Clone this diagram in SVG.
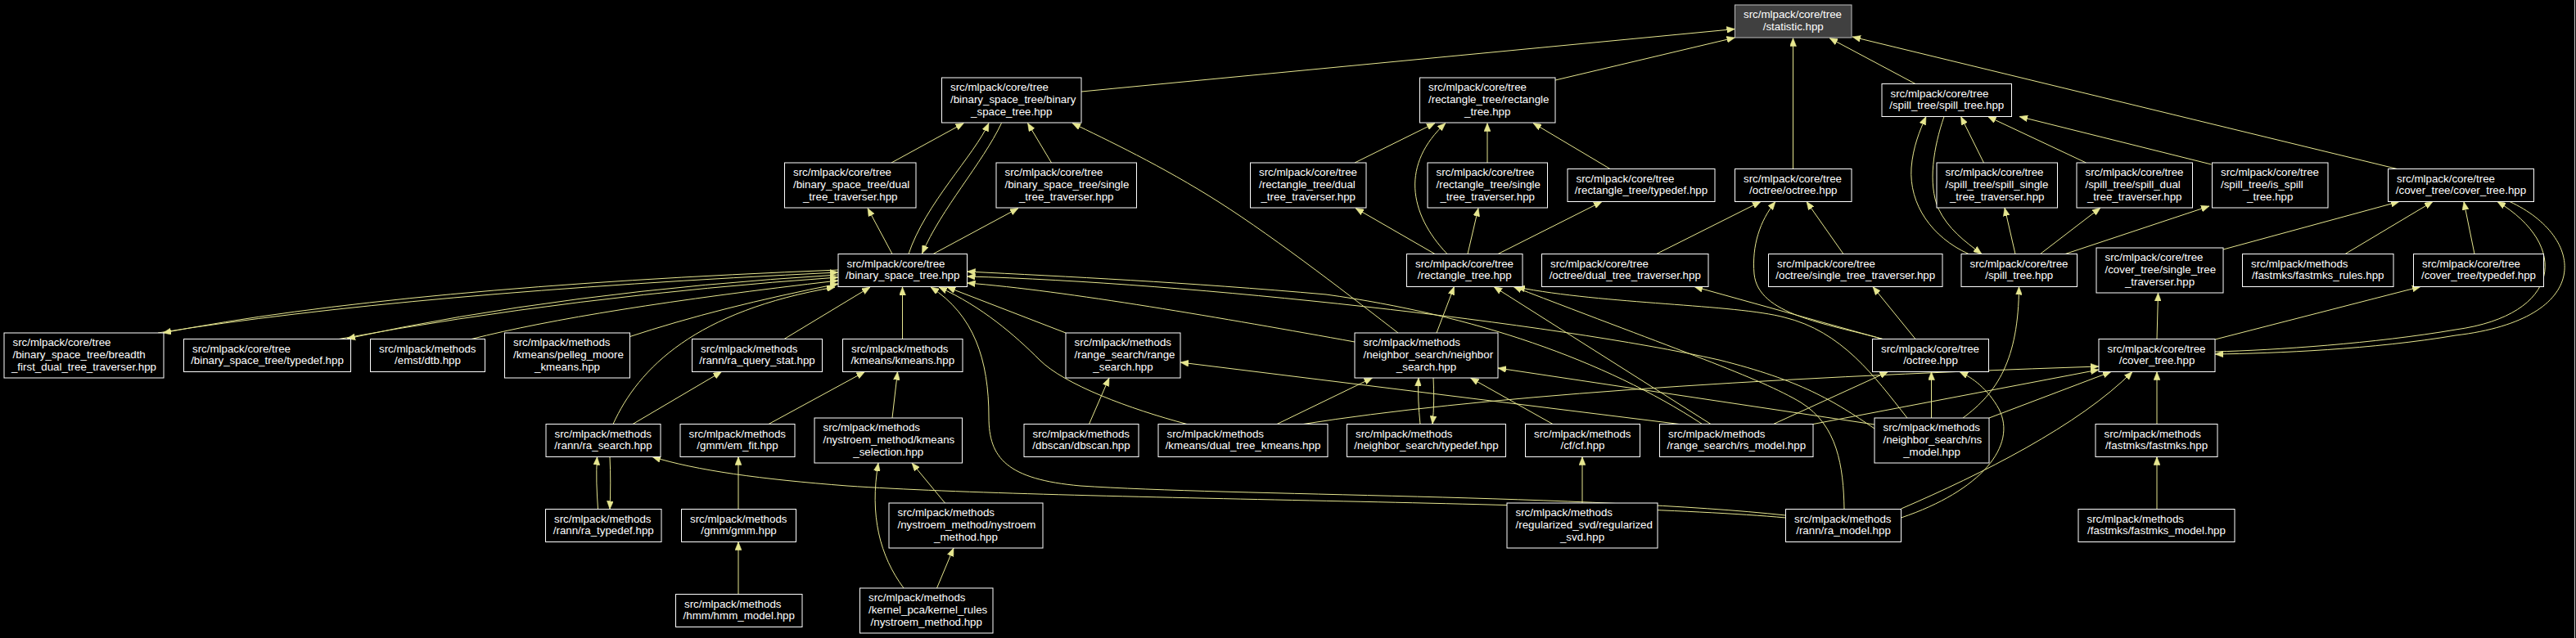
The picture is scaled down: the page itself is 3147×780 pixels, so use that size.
<svg xmlns="http://www.w3.org/2000/svg" width="3147" height="780" viewBox="0 0 3147 780">
<defs>
<marker id="a" viewBox="0 0 10 8" refX="10" refY="4" markerWidth="10" markerHeight="8" markerUnits="userSpaceOnUse" orient="auto">
<path d="M0,0 L10,4 L0,8 z" fill="#e6e68f" stroke="#e6e68f" stroke-width="0.5"/>
</marker>
<style>
.n rect{fill:#000;stroke:#ffffff;stroke-width:1}
.root rect{fill:#404040;stroke:#bfbfbf;stroke-width:1}
text{font-family:"Liberation Sans",Arial,sans-serif;font-size:13.33px;fill:#ffffff}
.c{text-anchor:middle}
#edges path{fill:none;stroke:#e6e68f;stroke-width:1;marker-end:url(#a)}
</style>
</defs>
<rect x="0" y="0" width="3147" height="780" fill="#000"/>
<line x1="3145.5" y1="0" x2="3145.5" y2="780" stroke="#d0d0d0" stroke-width="1"/>
<g id="edges">
<path d="M1321,112 L2119.5,35.5"/>
<path d="M1900,98 L2119.5,46"/>
<path d="M2190.5,206.5 L2190.5,46.5"/>
<path d="M2340,102.5 L2235,46.5"/>
<path d="M2928.5,206.5 L2263,45"/>
<path d="M1089,199 L1177.5,150.5"/>
<path d="M1110,310.5 C1130,250 1190,190 1208,150.5"/>
<path d="M1223.5,150.5 C1200,200 1150,255 1126.5,310"/>
<path d="M1284.5,199 L1255.5,150.5"/>
<path d="M1090,310.5 L1060,254.5"/>
<path d="M1140,310.5 L1244,254.5"/>
<path d="M1708,407 C1660,370 1560,292 1489,247 C1420,203 1350,170 1310,150.5"/>
<path d="M1655,199 L1753,150.5"/>
<path d="M1768,310.5 C1720,260 1712,200 1766,150.5"/>
<path d="M1817,199 L1817,150.5"/>
<path d="M1967,206.5 L1873,150.5"/>
<path d="M1753,310.5 L1656,254.5"/>
<path d="M1793,310.5 L1806,254.5"/>
<path d="M1830,310.5 L1957,246.5"/>
<path d="M2023.5,310.5 L2151,246.5"/>
<path d="M2252,310.5 L2207,246.5"/>
<path d="M2300,414.5 C2230,395 2148,385 2143,335 C2140,300 2150,270 2169,246.5"/>
<path d="M2300,414.5 L2070,350.5"/>
<path d="M2340,414.5 L2288,350.5"/>
<path d="M2166.5,518.5 L2306.5,454.5"/>
<path d="M2359.5,511 L2359.5,454.5"/>
<path d="M2322.5,633 C2420,600 2465,545 2442,500 C2428,475 2410,462 2394,454.5"/>
<path d="M2398,511 C2440,480 2466,440 2466.5,350.5"/>
<path d="M2430,511 L2579,454.5"/>
<path d="M2322.5,622 C2420,580 2540,520 2605,454.5"/>
<path d="M1592,518.5 Q1900,470 2564,448"/>
<path d="M2215,518.5 L2564,452"/>
<path d="M2635,414.5 L2636.5,358"/>
<path d="M2635,518.5 L2635,454.5"/>
<path d="M2635,622.5 L2635,558.5"/>
<path d="M2706,415 L2957,350.5"/>
<path d="M3023,310.5 L3010,246.5"/>
<path d="M2865,310.5 L2972,246.5"/>
<path d="M2716,305 L2931,246.5"/>
<path d="M3066,246.5 C3160,290 3170,390 3000,410 C2900,427 2780,432 2706,433"/>
<path d="M2706,430 C2780,428 2900,420 3000,403 C3130,385 3140,300 3051,246.5"/>
<path d="M2423.5,199 L2395.5,142.5"/>
<path d="M2548.5,199 L2428.5,142.5"/>
<path d="M2701.5,201 L2467,142.5"/>
<path d="M2462,310.5 L2449,254"/>
<path d="M2492.5,310.5 L2566,254"/>
<path d="M2523,310.5 L2699,252"/>
<path d="M2405,310.5 C2360,290 2332,250 2335,205 C2337,180 2345,160 2353,142.5"/>
<path d="M2375,142.5 C2362,180 2355,225 2368,255 C2380,280 2400,295 2421,310.5"/>
<path d="M2330,511 C2290,460 2250,405 2180,388 C2120,372 1960,372 1853,351"/>
<path d="M2253,622.5 C2252,570 2245,520 2200,492 C2150,462 2050,428 1849,350.5"/>
<path d="M2090,518.5 L1825,350.5"/>
<path d="M1755,407 L1776.5,350.5"/>
<path d="M2051.5,518.5 L1442,443"/>
<path d="M2079.5,518.5 C1960,440 1800,385 1620,360 C1450,345 1300,338 1181.5,332"/>
<path d="M2290,524 C2240,490 2200,465 2100,440 C1900,395 1450,345 1181.5,338"/>
<path d="M1655,418 C1500,390 1300,355 1181.5,346"/>
<path d="M1302,407 L1157,351"/>
<path d="M1450,518.5 C1380,500 1300,470 1270,440 C1240,410 1200,375 1147,351"/>
<path d="M2181.5,630 C1950,605 1500,606 1320,594 C1230,586 1208,560 1208,510 C1208,440 1190,385 1137,351"/>
<path d="M2181.5,633 C1950,612 1300,612 1035,594 C930,586 850,575 797,558.5"/>
<path d="M1102.5,414.5 L1102.5,351"/>
<path d="M958,414.5 L1063,351"/>
<path d="M749,518.5 C780,450 850,380 1020,351"/>
<path d="M768,412 Q880,375 1024,347"/>
<path d="M576,414.5 Q720,378 1024,343"/>
<path d="M414,414.5 Q700,362 1024,339"/>
<path d="M1024,336 Q690,356 424,414"/>
<path d="M193,407 Q500,358 1024,333"/>
<path d="M1024,330 Q490,351 199,407"/>
<path d="M773,518.5 L881.5,454.5"/>
<path d="M730.5,622.5 C729,600 728,580 729.5,558.5"/>
<path d="M745,558.5 C746,580 746,600 745,622.5"/>
<path d="M939,518.5 L1056.5,454.5"/>
<path d="M1090,511 L1096.5,454.5"/>
<path d="M902,622.5 L902,558.5"/>
<path d="M902,726.5 L902,662.5"/>
<path d="M1154.5,615 L1114,566"/>
<path d="M1104,719 C1075,680 1062,630 1073,566"/>
<path d="M1144.5,719 L1165,670"/>
<path d="M1330.5,518.5 L1355,462"/>
<path d="M1560,518.5 L1676.5,462"/>
<path d="M1735,518.5 C1733,500 1732,480 1733,462"/>
<path d="M1751,462 C1752,480 1752,500 1750,518.5"/>
<path d="M1897,518.5 L1796.5,462"/>
<path d="M2290,519 L1830,450"/>
<path d="M1933,615 L1933,558.5"/>
</g>
<g id="n1" class="root"><rect x="2119.5" y="6" width="142.5" height="40"/><text x="2130" y="22">src/mlpack/core/tree</text><text class="c" x="2190.75" y="36.5">/statistic.hpp</text></g>
<g id="n2" class="n"><rect x="1150.5" y="95" width="170.5" height="55"/><text x="1161" y="111">src/mlpack/core/tree</text><text x="1161" y="126">/binary_space_tree/binary</text><text class="c" x="1235.75" y="141">_space_tree.hpp</text></g>
<g id="n3" class="n"><rect x="1734.5" y="95" width="165.5" height="55"/><text x="1745" y="111">src/mlpack/core/tree</text><text x="1745" y="126">/rectangle_tree/rectangle</text><text class="c" x="1817.25" y="141">_tree.hpp</text></g>
<g id="n4" class="n"><rect x="2299" y="102.5" width="158.5" height="40"/><text x="2309.5" y="118.5">src/mlpack/core/tree</text><text class="c" x="2378.25" y="133">/spill_tree/spill_tree.hpp</text></g>
<g id="n5" class="n"><rect x="958.5" y="199" width="160.5" height="55"/><text x="969" y="215">src/mlpack/core/tree</text><text x="969" y="230">/binary_space_tree/dual</text><text class="c" x="1038.75" y="245">_tree_traverser.hpp</text></g>
<g id="n6" class="n"><rect x="1217" y="199" width="171.5" height="55"/><text x="1227.5" y="215">src/mlpack/core/tree</text><text x="1227.5" y="230">/binary_space_tree/single</text><text class="c" x="1302.75" y="245">_tree_traverser.hpp</text></g>
<g id="n7" class="n"><rect x="1527.5" y="199" width="141.5" height="55"/><text x="1538" y="215">src/mlpack/core/tree</text><text x="1538" y="230">/rectangle_tree/dual</text><text class="c" x="1598.25" y="245">_tree_traverser.hpp</text></g>
<g id="n8" class="n"><rect x="1744" y="199" width="146.5" height="55"/><text x="1754.5" y="215">src/mlpack/core/tree</text><text x="1754.5" y="230">/rectangle_tree/single</text><text class="c" x="1817.25" y="245">_tree_traverser.hpp</text></g>
<g id="n9" class="n"><rect x="1915" y="206.5" width="180" height="40"/><text x="1925.5" y="222.5">src/mlpack/core/tree</text><text class="c" x="2005" y="237">/rectangle_tree/typedef.hpp</text></g>
<g id="n10" class="n"><rect x="2119.5" y="206.5" width="142.5" height="40"/><text x="2130" y="222.5">src/mlpack/core/tree</text><text class="c" x="2190.75" y="237">/octree/octree.hpp</text></g>
<g id="n11" class="n"><rect x="2366" y="199" width="147.5" height="55"/><text x="2376.5" y="215">src/mlpack/core/tree</text><text x="2376.5" y="230">/spill_tree/spill_single</text><text class="c" x="2439.75" y="245">_tree_traverser.hpp</text></g>
<g id="n12" class="n"><rect x="2537" y="199" width="141.5" height="55"/><text x="2547.5" y="215">src/mlpack/core/tree</text><text x="2547.5" y="230">/spill_tree/spill_dual</text><text class="c" x="2607.75" y="245">_tree_traverser.hpp</text></g>
<g id="n13" class="n"><rect x="2702.5" y="199" width="141.5" height="55"/><text x="2713" y="215">src/mlpack/core/tree</text><text x="2713" y="230">/spill_tree/is_spill</text><text class="c" x="2773.25" y="245">_tree.hpp</text></g>
<g id="n14" class="n"><rect x="2917.5" y="206.5" width="178" height="40"/><text x="2928" y="222.5">src/mlpack/core/tree</text><text class="c" x="3006.5" y="237">/cover_tree/cover_tree.hpp</text></g>
<g id="n15" class="n"><rect x="1024" y="310.5" width="157.5" height="40"/><text x="1034.5" y="326.5">src/mlpack/core/tree</text><text class="c" x="1102.75" y="341">/binary_space_tree.hpp</text></g>
<g id="n16" class="n"><rect x="1718.5" y="310.5" width="141.5" height="40"/><text x="1729" y="326.5">src/mlpack/core/tree</text><text class="c" x="1789.25" y="341">/rectangle_tree.hpp</text></g>
<g id="n17" class="n"><rect x="1883.5" y="310.5" width="203.5" height="40"/><text x="1894" y="326.5">src/mlpack/core/tree</text><text class="c" x="1985.25" y="341">/octree/dual_tree_traverser.hpp</text></g>
<g id="n18" class="n"><rect x="2160.5" y="310.5" width="212.5" height="40"/><text x="2171" y="326.5">src/mlpack/core/tree</text><text class="c" x="2266.75" y="341">/octree/single_tree_traverser.hpp</text></g>
<g id="n19" class="n"><rect x="2396" y="310.5" width="141.5" height="40"/><text x="2406.5" y="326.5">src/mlpack/core/tree</text><text class="c" x="2466.75" y="341">/spill_tree.hpp</text></g>
<g id="n20" class="n"><rect x="2561" y="303" width="155" height="55"/><text x="2571.5" y="319">src/mlpack/core/tree</text><text x="2571.5" y="334">/cover_tree/single_tree</text><text class="c" x="2638.5" y="349">_traverser.hpp</text></g>
<g id="n21" class="n"><rect x="2739.5" y="310.5" width="184.5" height="40"/><text x="2750" y="326.5">src/mlpack/methods</text><text class="c" x="2831.75" y="341">/fastmks/fastmks_rules.hpp</text></g>
<g id="n22" class="n"><rect x="2948.5" y="310.5" width="159" height="40"/><text x="2959" y="326.5">src/mlpack/core/tree</text><text class="c" x="3028" y="341">/cover_tree/typedef.hpp</text></g>
<g id="n23" class="n"><rect x="5" y="407" width="195" height="55"/><text x="15.5" y="423">src/mlpack/core/tree</text><text x="15.5" y="438">/binary_space_tree/breadth</text><text class="c" x="102.5" y="453">_first_dual_tree_traverser.hpp</text></g>
<g id="n24" class="n"><rect x="224.5" y="414.5" width="204" height="40"/><text x="235" y="430.5">src/mlpack/core/tree</text><text class="c" x="326.5" y="445">/binary_space_tree/typedef.hpp</text></g>
<g id="n25" class="n"><rect x="452.5" y="414.5" width="140" height="40"/><text x="463" y="430.5">src/mlpack/methods</text><text class="c" x="522.5" y="445">/emst/dtb.hpp</text></g>
<g id="n26" class="n"><rect x="616.5" y="407" width="153" height="55"/><text x="627" y="423">src/mlpack/methods</text><text x="627" y="438">/kmeans/pelleg_moore</text><text class="c" x="693" y="453">_kmeans.hpp</text></g>
<g id="n27" class="n"><rect x="845.5" y="414.5" width="159" height="40"/><text x="856" y="430.5">src/mlpack/methods</text><text class="c" x="925" y="445">/rann/ra_query_stat.hpp</text></g>
<g id="n28" class="n"><rect x="1029.5" y="414.5" width="146.5" height="40"/><text x="1040" y="430.5">src/mlpack/methods</text><text class="c" x="1102.75" y="445">/kmeans/kmeans.hpp</text></g>
<g id="n29" class="n"><rect x="1302" y="407" width="140" height="55"/><text x="1312.5" y="423">src/mlpack/methods</text><text x="1312.5" y="438">/range_search/range</text><text class="c" x="1372" y="453">_search.hpp</text></g>
<g id="n30" class="n"><rect x="1655" y="407" width="175" height="55"/><text x="1665.5" y="423">src/mlpack/methods</text><text x="1665.5" y="438">/neighbor_search/neighbor</text><text class="c" x="1742.5" y="453">_search.hpp</text></g>
<g id="n31" class="n"><rect x="2287.5" y="414.5" width="142" height="40"/><text x="2298" y="430.5">src/mlpack/core/tree</text><text class="c" x="2358.5" y="445">/octree.hpp</text></g>
<g id="n32" class="n"><rect x="2564" y="414.5" width="142" height="40"/><text x="2574.5" y="430.5">src/mlpack/core/tree</text><text class="c" x="2635" y="445">/cover_tree.hpp</text></g>
<g id="n33" class="n"><rect x="667" y="518.5" width="140" height="40"/><text x="677.5" y="534.5">src/mlpack/methods</text><text class="c" x="737" y="549">/rann/ra_search.hpp</text></g>
<g id="n34" class="n"><rect x="831" y="518.5" width="140" height="40"/><text x="841.5" y="534.5">src/mlpack/methods</text><text class="c" x="901" y="549">/gmm/em_fit.hpp</text></g>
<g id="n35" class="n"><rect x="995" y="511" width="180.5" height="55"/><text x="1005.5" y="527">src/mlpack/methods</text><text x="1005.5" y="542">/nystroem_method/kmeans</text><text class="c" x="1085.25" y="557">_selection.hpp</text></g>
<g id="n36" class="n"><rect x="1251" y="518.5" width="140" height="40"/><text x="1261.5" y="534.5">src/mlpack/methods</text><text class="c" x="1321" y="549">/dbscan/dbscan.hpp</text></g>
<g id="n37" class="n"><rect x="1415" y="518.5" width="207" height="40"/><text x="1425.5" y="534.5">src/mlpack/methods</text><text class="c" x="1518.5" y="549">/kmeans/dual_tree_kmeans.hpp</text></g>
<g id="n38" class="n"><rect x="1645.5" y="518.5" width="194" height="40"/><text x="1656" y="534.5">src/mlpack/methods</text><text class="c" x="1742.5" y="549">/neighbor_search/typedef.hpp</text></g>
<g id="n39" class="n"><rect x="1863.5" y="518.5" width="140" height="40"/><text x="1874" y="534.5">src/mlpack/methods</text><text class="c" x="1933.5" y="549">/cf/cf.hpp</text></g>
<g id="n40" class="n"><rect x="2027.5" y="518.5" width="187.5" height="40"/><text x="2038" y="534.5">src/mlpack/methods</text><text class="c" x="2121.25" y="549">/range_search/rs_model.hpp</text></g>
<g id="n41" class="n"><rect x="2290" y="511" width="140" height="55"/><text x="2300.5" y="527">src/mlpack/methods</text><text x="2300.5" y="542">/neighbor_search/ns</text><text class="c" x="2360" y="557">_model.hpp</text></g>
<g id="n42" class="n"><rect x="2560" y="518.5" width="149" height="40"/><text x="2570.5" y="534.5">src/mlpack/methods</text><text class="c" x="2634.5" y="549">/fastmks/fastmks.hpp</text></g>
<g id="n43" class="n"><rect x="666.5" y="622.5" width="141.5" height="40"/><text x="677" y="638.5">src/mlpack/methods</text><text class="c" x="737.25" y="653">/rann/ra_typedef.hpp</text></g>
<g id="n44" class="n"><rect x="832.5" y="622.5" width="140" height="40"/><text x="843" y="638.5">src/mlpack/methods</text><text class="c" x="902.5" y="653">/gmm/gmm.hpp</text></g>
<g id="n45" class="n"><rect x="1086" y="615" width="188" height="55"/><text x="1096.5" y="631">src/mlpack/methods</text><text x="1096.5" y="646">/nystroem_method/nystroem</text><text class="c" x="1180" y="661">_method.hpp</text></g>
<g id="n46" class="n"><rect x="1841" y="615" width="184" height="55"/><text x="1851.5" y="631">src/mlpack/methods</text><text x="1851.5" y="646">/regularized_svd/regularized</text><text class="c" x="1933" y="661">_svd.hpp</text></g>
<g id="n47" class="n"><rect x="2181.5" y="622.5" width="141" height="40"/><text x="2192" y="638.5">src/mlpack/methods</text><text class="c" x="2252" y="653">/rann/ra_model.hpp</text></g>
<g id="n48" class="n"><rect x="2539" y="622.5" width="191" height="40"/><text x="2549.5" y="638.5">src/mlpack/methods</text><text class="c" x="2634.5" y="653">/fastmks/fastmks_model.hpp</text></g>
<g id="n49" class="n"><rect x="825.5" y="726.5" width="154.5" height="40"/><text x="836" y="742.5">src/mlpack/methods</text><text class="c" x="902.75" y="757">/hmm/hmm_model.hpp</text></g>
<g id="n50" class="n"><rect x="1050.5" y="719" width="162.5" height="55"/><text x="1061" y="735">src/mlpack/methods</text><text x="1061" y="750">/kernel_pca/kernel_rules</text><text class="c" x="1131.75" y="765">/nystroem_method.hpp</text></g>
</svg>
